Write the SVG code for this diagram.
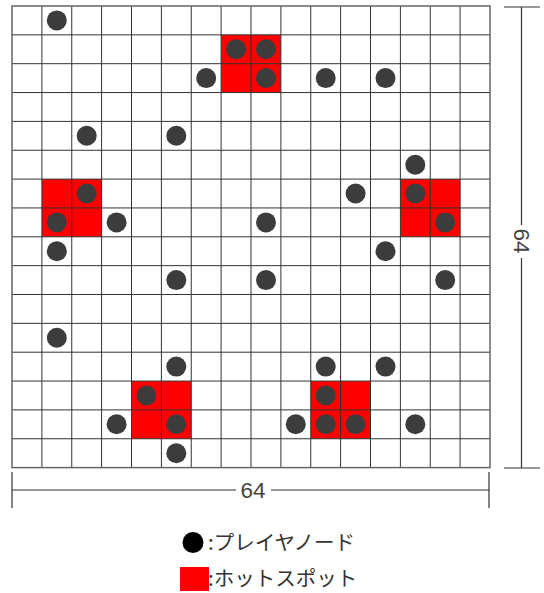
<svg xmlns="http://www.w3.org/2000/svg" width="544" height="593" viewBox="0 0 544 593">
<style>
.hot{fill:#ff0000}
.grid{stroke:#333;stroke-width:1;fill:none}
.border{stroke:#666;stroke-width:1.5;fill:none}
.dot{fill:#3c3c3c}
.rule{stroke:#333;stroke-width:1.2;fill:none}
.dim{font-family:"Liberation Sans",Arial,sans-serif;font-size:22.5px;fill:#444}
.leg{font-family:"Noto Sans CJK JP","Noto Sans",sans-serif;font-size:20.5px;fill:#333}
</style>
<defs>
<circle id="d" r="10" class="dot"/>
</defs>
<rect width="544" height="593" fill="#fff"/>
<g id="hotspots">
<rect class="hot" x="221.1" y="34.85" width="59.75" height="57.7"/>
<rect class="hot" x="41.9" y="179.1" width="59.75" height="57.7"/>
<rect class="hot" x="400.4" y="179.1" width="59.75" height="57.7"/>
<rect class="hot" x="131.5" y="381.05" width="59.75" height="57.7"/>
<rect class="hot" x="310.75" y="381.05" width="59.75" height="57.7"/>
</g>
<g id="grid">
<path class="grid" d="M41.9 6V467.6M71.75 6V467.6M101.6 6V467.6M131.5 6V467.6M161.4 6V467.6M191.25 6V467.6M221.1 6V467.6M251 6V467.6M280.9 6V467.6M310.75 6V467.6M340.6 6V467.6M370.5 6V467.6M400.4 6V467.6M430.25 6V467.6M460.1 6V467.6"/>
<path class="grid" d="M12 34.85H490M12 63.7H490M12 92.55H490M12 121.4H490M12 150.25H490M12 179.1H490M12 207.95H490M12 236.8H490M12 265.65H490M12 294.5H490M12 323.35H490M12 352.2H490M12 381.05H490M12 409.9H490M12 438.75H490"/>
<rect class="border" x="12" y="6" width="478" height="461.6"/>
</g>
<g id="players">
<use href="#d" x="56.8" y="20.4"/>
<use href="#d" x="236.1" y="49.3"/><use href="#d" x="266" y="49.3"/>
<use href="#d" x="206.2" y="78.1"/><use href="#d" x="266" y="78.1"/><use href="#d" x="325.7" y="78.1"/><use href="#d" x="385.5" y="78.1"/>
<use href="#d" x="86.7" y="135.8"/><use href="#d" x="176.3" y="135.8"/>
<use href="#d" x="415.3" y="164.7"/>
<use href="#d" x="86.7" y="193.5"/><use href="#d" x="355.6" y="193.5"/><use href="#d" x="415.3" y="193.5"/>
<use href="#d" x="56.8" y="222.4"/><use href="#d" x="116.6" y="222.4"/><use href="#d" x="266" y="222.4"/><use href="#d" x="445.2" y="222.4"/>
<use href="#d" x="56.8" y="251.2"/><use href="#d" x="385.5" y="251.2"/>
<use href="#d" x="176.3" y="280.1"/><use href="#d" x="266" y="280.1"/><use href="#d" x="445.2" y="280.1"/>
<use href="#d" x="56.8" y="337.8"/>
<use href="#d" x="176.3" y="366.6"/><use href="#d" x="325.7" y="366.6"/><use href="#d" x="385.5" y="366.6"/>
<use href="#d" x="146.5" y="395.5"/><use href="#d" x="325.7" y="395.5"/>
<use href="#d" x="116.6" y="424.3"/><use href="#d" x="176.3" y="424.3"/><use href="#d" x="295.8" y="424.3"/><use href="#d" x="325.7" y="424.3"/><use href="#d" x="355.6" y="424.3"/><use href="#d" x="415.3" y="424.3"/>
<use href="#d" x="176.3" y="453.2"/>
</g>
<g id="dimensions">
<path class="rule" d="M12 472V508M489 472V508M12 490H236M271 490H489"/>
<text class="dim" x="253" y="498" text-anchor="middle">64</text>
<path class="rule" d="M504 7H540M504 468H540M521.5 7V225M521.5 258V468"/>
<text class="dim" transform="translate(514,241) rotate(90)" text-anchor="middle">64</text>
</g>
<g id="legend">
<circle cx="193" cy="542.5" r="10.5" fill="#000"/>
<text class="leg" x="208" y="550">:プレイヤノード</text>
<rect x="180" y="567" width="29" height="24" fill="#ff0000"/>
<text class="leg" x="208" y="586">:ホットスポット</text>
</g>
</svg>
